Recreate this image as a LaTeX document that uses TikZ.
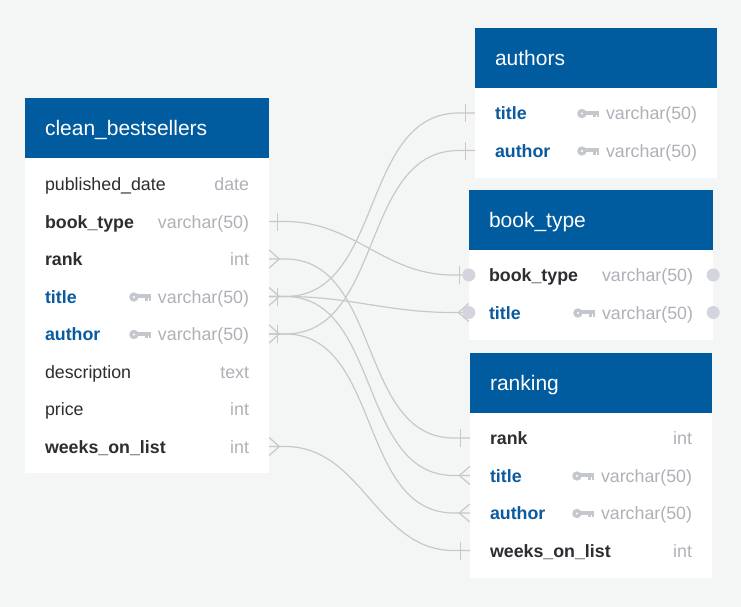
\documentclass[tikz,border=0pt]{standalone}
\usepackage{fontspec}
\setmainfont{Liberation Sans}
\usetikzlibrary{positioning}
\definecolor{bgc}{RGB}{244,245,245}
\definecolor{headc}{RGB}{0,91,159}
\definecolor{linec}{RGB}{200,200,200}
\definecolor{dotc}{RGB}{212,212,222}
\definecolor{typec}{RGB}{176,176,184}
\definecolor{keyc}{RGB}{196,199,204}
\definecolor{namec}{RGB}{45,45,50}
\definecolor{pkc}{RGB}{10,90,160}
\tikzset{
	rowbox/.style={inner sep=0pt, minimum height=37.5pt},
	headbox/.style={fill=headc, inner sep=0pt, minimum height=60pt},
	bodybox/.style={fill=white, inner sep=0pt},
	headtxt/.style={inner sep=0pt, text=white, font=\fontsize{21}{24}\selectfont},
	plainname/.style={inner sep=0pt, text=namec, font=\fontsize{17.8}{20}\selectfont},
	boldname/.style={plainname, font=\fontsize{17.8}{20}\selectfont\bfseries},
	keyname/.style={boldname, text=pkc},
	typetxt/.style={inner sep=0pt, text=typec, font=\fontsize{17.8}{20}\selectfont},
	link/.style={draw=linec, line width=1.2pt},
	barout/.pic={\draw[link] (8,-9) -- (8,9);},
	barin/.pic={\draw[link] (-9.5,-9) -- (-9.5,9);},
	crowout/.pic={\draw[link] (0,-9) -- (10,0) -- (0,9);},
	crowin/.pic={\draw[link] (0,-9) -- (-10.5,0) -- (0,9);},
	dbkey/.pic={
		\fill[keyc, even odd rule] (-6.3,0.5) circle (4.7) (-6.3,0.5) circle (1.4);
		\fill[keyc] (-3,-2.2) rectangle (11,1.8);
		\fill[keyc] (5,1.8) rectangle (7.3,4.4);
		\fill[keyc] (8.7,1.8) rectangle (11,4.4);
	}
}
\newcommand{\erlink}[2]{\draw[link] (#1.east) -- ++(16,0) to[out=0,in=180] ([xshift=-16pt]#2.west) -- (#2.west);}
\begin{document}
\begin{tikzpicture}[x=1pt, y=-1pt]
	\fill[bgc] (0,0) rectangle (741,607);
	\useasboundingbox (0,0) rectangle (741,607);
	% clean_bestsellers
	\node[headbox, minimum width=244pt] (cb-head) at (147,128) {};
	\node[bodybox, minimum width=244pt, minimum height=315pt, below=0pt of cb-head] (cb-body) {};
	\node[headtxt, anchor=base west] at ([xshift=20pt, yshift=-7.5pt]cb-head.west) {clean\_bestsellers};
	\foreach \id/\y/\lab/\typ/\st in {pubdate/184/published\_date/date/plainname, booktype/221.5/book\_type/varchar(50)/boldname, rank/259/rank/int/boldname, title/296.5/title/varchar(50)/keyname, author/334/author/varchar(50)/keyname, desc/371.5/description/text/plainname, price/409/price/int/plainname, weeks/446.5/weeks\_on\_list/int/boldname}{
		\node[rowbox, minimum width=244pt] (cb-\id) at (147,\y) {};
		\node[\st, anchor=base west] at ([xshift=20pt, yshift=-6.8pt]cb-\id.west) {\lab};
		\node[typetxt, anchor=base east] at ([xshift=-20pt, yshift=-6.8pt]cb-\id.east) {\typ};
	}
	% authors
	\node[headbox, minimum width=242pt] (au-head) at (596,58) {};
	\node[bodybox, minimum width=242pt, minimum height=90pt, below=0pt of au-head] (au-body) {};
	\node[headtxt, anchor=base west] at ([xshift=20pt, yshift=-7.5pt]au-head.west) {authors};
	\foreach \id/\y/\lab in {title/113/title, author/150.5/author}{
		\node[rowbox, minimum width=242pt] (au-\id) at (596,\y) {};
		\node[keyname, anchor=base west] at ([xshift=20pt, yshift=-6.8pt]au-\id.west) {\lab};
		\node[typetxt, anchor=base east] at ([xshift=-20pt, yshift=-6.8pt]au-\id.east) {varchar(50)};
	}
	% book_type
	\node[headbox, minimum width=244pt] (bt-head) at (591,220) {};
	\node[bodybox, minimum width=244pt, minimum height=90pt, below=0pt of bt-head] (bt-body) {};
	\node[headtxt, anchor=base west] at ([xshift=20pt, yshift=-7.5pt]bt-head.west) {book\_type};
	\foreach \id/\y/\lab/\st in {booktype/275/book\_type/boldname, title/312.5/title/keyname}{
		\node[rowbox, minimum width=244pt] (bt-\id) at (591,\y) {};
		\node[\st, anchor=base west] at ([xshift=20pt, yshift=-6.8pt]bt-\id.west) {\lab};
		\node[typetxt, anchor=base east] at ([xshift=-20pt, yshift=-6.8pt]bt-\id.east) {varchar(50)};
	}
	% ranking
	\node[headbox, minimum width=242pt] (rk-head) at (591,383) {};
	\node[bodybox, minimum width=242pt, minimum height=165pt, below=0pt of rk-head] (rk-body) {};
	\node[headtxt, anchor=base west] at ([xshift=20pt, yshift=-7.5pt]rk-head.west) {ranking};
	\foreach \id/\y/\lab/\typ/\st in {rank/438/rank/int/boldname, title/475.5/title/varchar(50)/keyname, author/513/author/varchar(50)/keyname, weeks/550.5/weeks\_on\_list/int/boldname}{
		\node[rowbox, minimum width=242pt] (rk-\id) at (591,\y) {};
		\node[\st, anchor=base west] at ([xshift=20pt, yshift=-6.8pt]rk-\id.west) {\lab};
		\node[typetxt, anchor=base east] at ([xshift=-20pt, yshift=-6.8pt]rk-\id.east) {\typ};
	}
	% key icons
	\foreach \r in {cb-title, cb-author, au-title, au-author, bt-title, rk-title, rk-author}
	\pic at ([xshift=-129pt]\r.east) {dbkey};
	% relations
	\erlink{cb-booktype}{bt-booktype}
	\erlink{cb-rank}{rk-rank}
	\erlink{cb-title}{au-title}
	\erlink{cb-title}{bt-title}
	\erlink{cb-title}{rk-title}
	\erlink{cb-author}{au-author}
	\erlink{cb-author}{rk-author}
	\erlink{cb-weeks}{rk-weeks}
	% cardinality marks
	\foreach \r in {cb-booktype, cb-title, cb-author} \pic at (\r.east) {barout};
	\foreach \r in {cb-rank, cb-title, cb-author, cb-weeks} \pic at (\r.east) {crowout};
	\foreach \r in {au-title, au-author, bt-booktype, rk-rank, rk-weeks} \pic at (\r.west) {barin};
	\foreach \r in {bt-title, rk-title, rk-author} \pic at (\r.west) {crowin};
	\foreach \r in {bt-booktype, bt-title}{
		\fill[dotc] (\r.west) circle (6.5);
		\fill[dotc] (\r.east) circle (6.5);
	}
\end{tikzpicture}
\end{document}
